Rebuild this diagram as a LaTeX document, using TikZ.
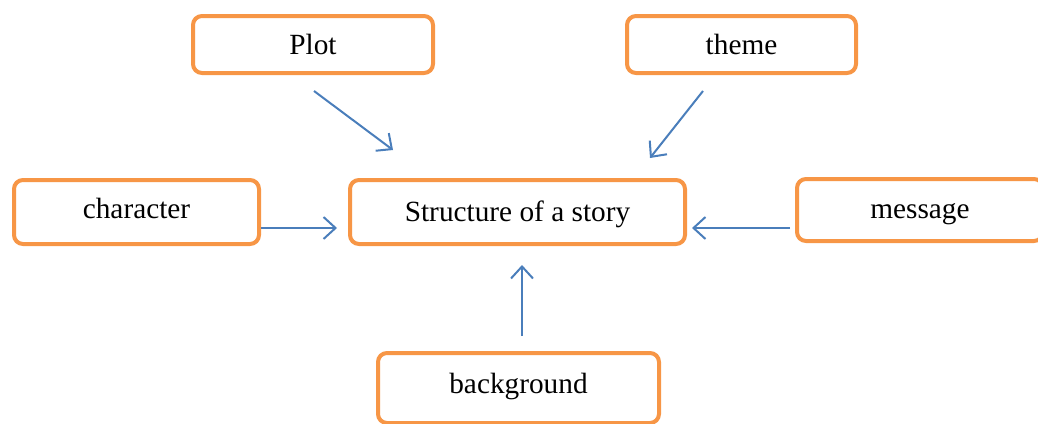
\documentclass[tikz,border=0pt]{standalone}
\usepackage{fontspec}
\setmainfont{Liberation Serif}
\usetikzlibrary{arrows.meta}
\definecolor{boxorange}{HTML}{F79646}
\definecolor{arrowblue}{HTML}{4A7EBB}
\tikzset{
  box/.style={draw=boxorange, line width=4pt, rounded corners=9pt, fill=white,
    inner sep=0pt, font=\fontsize{29.3}{34}\selectfont, text=black,
    text height=24pt, text depth=4pt},
  conn/.style={draw=arrowblue, line width=2pt,
    -{Straight Barb[length=12pt, width=22pt, line width=2pt]}}
}
\begin{document}
\begin{tikzpicture}[x=1pt, y=-1pt]
\useasboundingbox (0,0) rectangle (1038,423);
\begin{scope}
\clip (0,0) rectangle (1038,423);
\node[box, minimum width=240pt, minimum height=57pt] (plot) at (313,44.5) {Plot};
\node[box, minimum width=229pt, minimum height=57pt] (theme) at (741.5,44.5) {theme};
\node[box, minimum width=245pt, minimum height=64pt, text height=20pt, text depth=8pt] (char) at (136.5,212) {character};
\node[box, minimum width=335pt, minimum height=64pt, text height=22pt, text depth=4pt] (story) at (517.5,212) {Structure of a story};
\node[box, minimum width=246pt, minimum height=62pt, text height=20pt, text depth=4pt] (msg) at (920,210) {message};
\node[box, minimum width=281pt, minimum height=70pt, text height=18pt, text depth=8pt] (bg) at (518.5,388) {background};
\end{scope}
\coordinate (p1) at (314,91);
\coordinate (p2) at (393,150);
\coordinate (t1) at (703,91);
\coordinate (t2) at (650,158);
\coordinate (c2) at (337,228);
\coordinate (m1) at (790,228);
\coordinate (m2) at (692,228);
\coordinate (b1) at (522,336);
\coordinate (b2) at (522,265);
\draw[conn] (p1) -- (p2);
\draw[conn] (t1) -- (t2);
\draw[conn] (char.east |- c2) -- (c2);
\draw[conn] (m1) -- (m2);
\draw[conn] (b1) -- (b2);
\end{tikzpicture}
\end{document}
